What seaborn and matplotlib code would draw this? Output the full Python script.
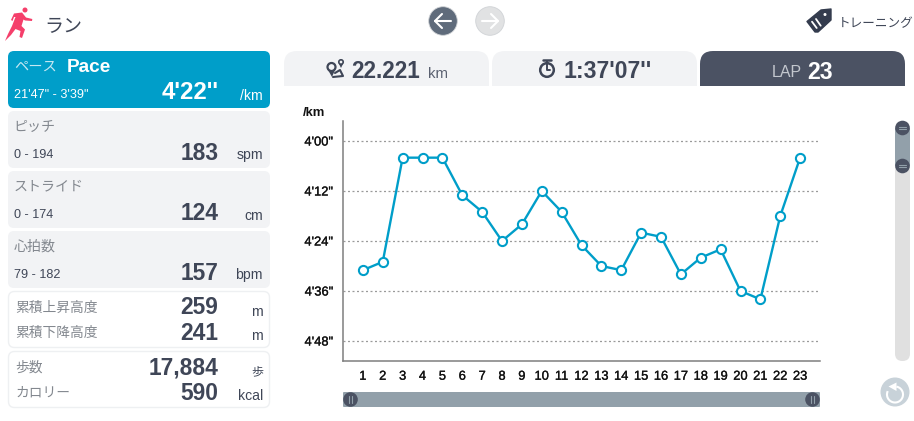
import numpy as np
import pandas as pd
import matplotlib
matplotlib.use("Agg")
import matplotlib.pyplot as plt
import matplotlib.patheffects as pe
import seaborn as sns
from matplotlib.patches import FancyBboxPatch, Circle, Polygon, PathPatch, Arc
from matplotlib.path import Path

# ---- data ----
laps = list(range(1, 24))
pace_seconds = [271, 269, 244, 244, 244, 253, 257, 264, 260, 252, 257, 265,
                270, 271, 262, 263, 272, 268, 266, 276, 278, 258, 244]
y_ticks = [240, 252, 264, 276, 288]
y_tick_labels = ["4'00\"", "4'12\"", "4'24\"", "4'36\"", "4'48\""]

title = "ラン"
training = "トレーニング"
metrics_filled = [
    ("ピッチ", "0 - 194", "183", "spm"),
    ("ストライド", "0 - 174", "124", "cm"),
    ("心拍数", "79 - 182", "157", "bpm"),
]
metrics_pairs = [
    [("累積上昇高度", "259", "m"), ("累積下降高度", "241", "m")],
    [("歩数", "17,884", "歩"), ("カロリー", "590", "kcal")],
]

# ---- style ----
sns.set_theme(style="white")
plt.rcParams["font.family"] = ["Liberation Sans", "Noto Sans CJK JP", "DejaVu Sans"]
JP = ["Noto Sans CJK JP", "Liberation Sans"]
LAT = ["Liberation Sans", "Noto Sans CJK JP"]

BLUE = "#009ec9"
PANEL = "#f2f3f5"
DARK = "#3f4657"
GREY = "#83888f"
SLATE = "#4b5263"
STEEL = "#92a0aa"
W, H = 914, 421

fig = plt.figure(figsize=(W / 100, H / 100), dpi=100, facecolor="white")
bg = fig.add_axes([0, 0, 1, 1], zorder=0)
bg.set_xlim(0, W)
bg.set_ylim(H, 0)
bg.axis("off")


def T(x, y, s, px, color=DARK, ha="left", weight="normal", fam=None):
    bg.text(x, y, s, fontsize=px * 0.72, color=color, ha=ha, va="center_baseline",
            fontweight=weight, family=fam or LAT)


def box(x0, y0, x1, y1, fc, ec="none", r=6, lw=1):
    bg.add_patch(FancyBboxPatch((x0 + r, y0 + r), x1 - x0 - 2 * r, y1 - y0 - 2 * r,
                                boxstyle=f"round,pad={r},rounding_size={r}",
                                fc=fc, ec=ec, lw=lw, mutation_aspect=1))


def tab(x0, x1, y0, y1, fc, r=13):
    v = [(x0, y1), (x0, y0 + r), (x0, y0), (x0 + r, y0), (x1 - r, y0), (x1, y0),
         (x1, y0 + r), (x1, y1), (x0, y1)]
    c = [Path.MOVETO, Path.LINETO, Path.CURVE3, Path.CURVE3, Path.LINETO,
         Path.CURVE3, Path.CURVE3, Path.LINETO, Path.CLOSEPOLY]
    bg.add_patch(PathPatch(Path(v, c), fc=fc, ec="none"))


# ---- header ----
PINK = "#f53f6b"
bg.add_patch(Circle((25, 10), 2.5, fc=PINK, ec="none"))
bg.add_patch(Polygon([(14, 13.5), (22, 12.5), (26, 17.5), (32.3, 19), (32, 21), (25, 20.5), (23.5, 19.5),
                      (21.5, 26), (25, 29.5), (22, 38), (19.5, 37), (20.5, 31), (15.5, 29), (11, 35),
                      (5, 41), (8, 34), (12, 26), (15.5, 17), (14, 17), (12.5, 21), (11, 20)],
                     fc=PINK, ec="none"))
T(44, 24.5, title, 19, fam=JP)

for cx, fc in [(443, "#5f6b7b"), (490, "#e1e2e3")]:
    bg.add_patch(Circle((cx, 21), 14.3, fc=fc, ec="#d0d3d6", lw=0.6))
    sign = -1 if cx == 443 else 1
    bg.plot([cx - 8, cx + 8], [21, 21], color="white", lw=1.5, solid_capstyle="round")
    bg.plot([cx + sign * 1, cx + sign * 8, cx + sign * 1], [14, 21, 28], color="white", lw=1.5,
            solid_capstyle="round")

bg.add_patch(Polygon([(807, 21.5), (821, 10), (831, 9), (831, 20), (818, 32), (815, 32)],
                     fc="#343c4e", ec="#343c4e", lw=1, joinstyle="round"))
bg.add_patch(Circle((825, 14.5), 1.5, fc="white", ec="none"))
bg.plot([812, 816.7], [21.7, 28], color="white", lw=1.3)
bg.plot([816, 820.7], [19, 25.7], color="white", lw=1.3)
T(838, 22.5, training, 12.6, fam=JP)

# ---- left panels ----
box(8, 51, 270, 108, BLUE)
T(14, 65.5, "ペース", 14.3, color="#c5e8f3", fam=JP)
T(67, 66, "Pace", 19, color="white", weight="bold")
T(14, 94, "21'47\" - 3'39\"", 12.6, color="white")
T(219, 90, "4'22''", 24, color="white", ha="right", weight="bold")
T(263, 94, "/km", 14, color="white", ha="right")

for i, (name, rng, val, unit) in enumerate(metrics_filled):
    y0 = 111 + 60 * i
    box(8, y0, 270, y0 + 57, PANEL)
    T(13.5, y0 + 14, name, 14, color=GREY, fam=JP)
    T(14, y0 + 43, rng, 12.6)
    T(219, y0 + 39.5, val, 22.8, ha="right", weight="bold")
    T(263, y0 + 43, unit, 14, ha="right")

for i, pair in enumerate(metrics_pairs):
    y0 = 291 + 60 * i
    box(8.5, y0 + 0.5, 269.5, y0 + 56.5, "white", ec="#eef0f2")
    for j, (name, val, unit) in enumerate(pair):
        y = y0 + 16 + 25 * j
        T(15.5, y - 1, name, 13.8, color=GREY, fam=JP)
        T(218, y - 1.5, val, 22.8, ha="right", weight="bold")
        T(263, y + 3, unit, 14 if unit != "歩" else 12, ha="right", fam=JP if unit == "歩" else LAT)

# ---- tabs ----
tab(284, 489, 51, 86, PANEL)
tab(492, 697, 51, 86, PANEL)
tab(700, 905, 51, 86, SLATE)

bg.add_patch(Circle((331.5, 67), 4, fc="none", ec=DARK, lw=1.6))
bg.add_patch(Polygon([(328, 70), (335, 70), (332, 77)], fc=DARK, ec="none"))
bg.add_patch(Circle((341, 62), 2.2, fc="none", ec=DARK, lw=1.2))
bg.add_patch(Polygon([(339, 64), (343, 64), (341, 68)], fc=DARK, ec="none"))
bg.plot([333, 343, 340, 335], [77, 76, 70, 73], color=DARK, lw=1.5)
T(351.5, 69, "22.221", 22.6, weight="bold")
T(428, 72, "km", 15, color="#5a6070")

bg.add_patch(Circle((547, 70), 6.8, fc="none", ec=DARK, lw=1.8))
bg.plot([543, 551], [59.5, 59.5], color=DARK, lw=1.8)
bg.plot([547, 547, 550], [61, 70, 70], color=DARK, lw=1.4)
T(563.5, 69, "1:37'07''", 23, weight="bold")

T(772, 71, "LAP", 16, color="#c3c7ce")
T(807, 70, "23", 23, color="white", weight="bold")

# ---- sliders ----
box(895, 121, 910, 361, "#e0e0e0", r=7.4)
box(895, 128, 910, 166, STEEL, r=0.5)
for cy in (128, 166):
    bg.add_patch(Circle((902.5, cy), 7.3, fc=SLATE, ec="none"))
    for dy in (-1.2, 1.2):
        bg.plot([899, 906], [cy + dy, cy + dy], color=STEEL, lw=0.8)

box(343, 392, 820, 407, STEEL, r=1)
for cx in (350.5, 812.5):
    bg.add_patch(Circle((cx, 399.5), 7.3, fc=SLATE, ec="none"))
    for dx in (-1.2, 1.2):
        bg.plot([cx + dx, cx + dx], [396, 403], color=STEEL, lw=0.8)

bg.add_patch(Circle((895, 392), 14.5, fc="#c8d2d9", ec="none"))
bg.add_patch(Arc((895, 394.5), 16, 16, theta1=-80, theta2=205, color="white", lw=1.5))
bg.add_patch(Polygon([(888.5, 386.5), (896.5, 382.5), (896.5, 391)], fc="white", ec="none"))

# ---- chart ----
ax = fig.add_axes([343 / W, (H - 361) / H, 477 / W, 240 / H], zorder=2)
ax.patch.set_alpha(0)
df = pd.DataFrame({"lap": laps, "pace": pace_seconds})
sns.lineplot(data=df, x="lap", y="pace", ax=ax, color=BLUE, linewidth=1.7, marker="o",
             markersize=6.6, markerfacecolor="white", markeredgecolor=BLUE, markeredgewidth=1.5,
             errorbar=None, zorder=3)
ax.set_xlim(0, 24)
ax.set_ylim(292.8, 235.2)
ax.set_xticks(laps)
ax.set_xticklabels([str(v) for v in laps])
ax.set_yticks(y_ticks)
ax.set_yticklabels(y_tick_labels)
ax.set_xlabel("")
ax.set_ylabel("")
ax.grid(axis="y", color="#9a9a9a", linewidth=0.9, linestyle=(0, (1.6, 2.0)))
ax.grid(axis="x", visible=False)
ax.tick_params(axis="both", length=0, labelsize=9.3, labelcolor="#111111")
ax.tick_params(axis="x", pad=7)
ax.tick_params(axis="y", pad=7)
for lab in ax.get_xticklabels() + ax.get_yticklabels():
    lab.set_path_effects([pe.withStroke(linewidth=0.2, foreground="#111111")])
for s in ("top", "right"):
    ax.spines[s].set_visible(False)
for s in ("left", "bottom"):
    ax.spines[s].set_color("#7f7f7f")
    ax.spines[s].set_linewidth(1.1)

T(303, 112, "/km", 13, color="#111111", weight="bold")

fig.savefig("out.png", dpi=100)
